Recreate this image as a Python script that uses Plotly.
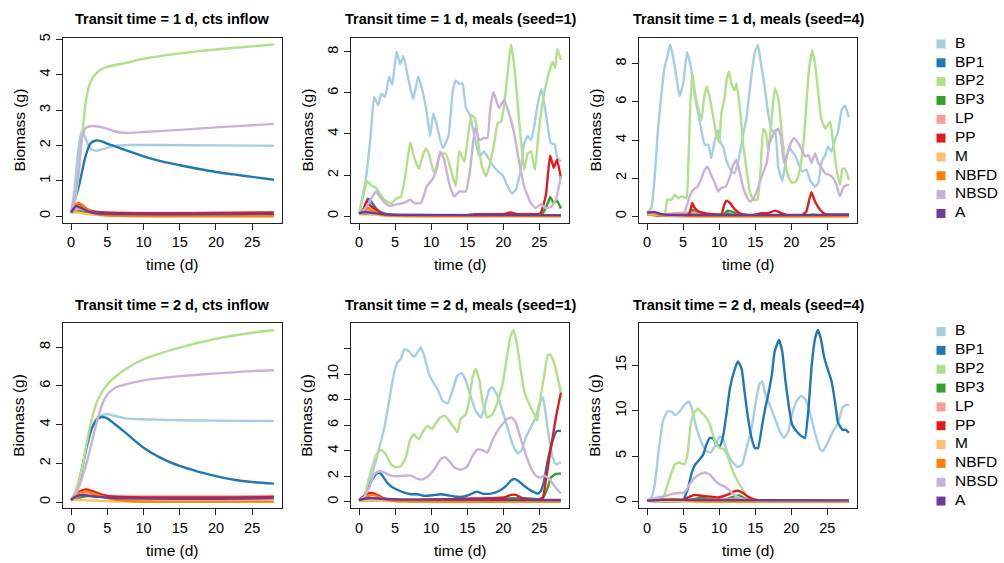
import plotly.graph_objects as go

# ---------------- series names / colours ----------------
SERIES = ["B", "BP1", "BP2", "BP3", "LP", "PP", "M", "NBFD", "NBSD", "A"]
COLORS = ["#A6CEE3", "#1F78B4", "#B2DF8A", "#33A02C", "#FB9A99",
          "#E31A1C", "#FDBF6F", "#FF7F00", "#CAB2D6", "#6A3D9A"]

TITLES = ["Transit time = 1 d, cts inflow", "Transit time = 1 d, meals (seed=1)",
          "Transit time = 1 d, meals (seed=4)", "Transit time = 2 d, cts inflow",
          "Transit time = 2 d, meals (seed=1)", "Transit time = 2 d, meals (seed=4)"]

X_TICKS = [0, 5, 10, 15, 20, 25]
Y_TICKS = [[0, 1, 2, 3, 4, 5], [0, 2, 4, 6, 8], [0, 2, 4, 6, 8],
           [0, 2, 4, 6, 8], [0, 2, 4, 6, 8, 10, 12], [0, 5, 10, 15]]
Y_TICKTEXT = [None, None, None, None, ["0", "2", "4", "6", "8", "10", ""], None]

# ---------------- panel 1: transit 1 d, continuous inflow  (time d, biomass g) ----------------
P1_B = [(0, 0.1), (0.5, 0.8), (1.0, 1.9), (1.5, 2.4), (2.0, 2.2), (2.5, 1.95), (3.0, 1.87), (3.5, 1.85),
        (4, 1.87), (5, 1.93), (6, 1.98), (8, 2.01), (12, 2.01), (20, 2.0), (28, 1.99)]
P1_BP1 = [(0, 0.1), (0.5, 0.45), (1.0, 0.8), (1.5, 1.25), (2.0, 1.7), (2.7, 2.06), (3.4, 2.14), (4, 2.13),
          (5, 2.05), (7.5, 1.87), (10, 1.69), (12.5, 1.55), (15, 1.44), (17.5, 1.34), (20, 1.25),
          (22.5, 1.18), (25, 1.11), (28, 1.03)]
P1_BP2 = [(0, 0.1), (0.5, 0.4), (1.0, 1.1), (1.5, 2.2), (2.0, 3.2), (2.5, 3.7), (3, 3.92), (4, 4.13),
          (5, 4.22), (7.5, 4.33), (10, 4.45), (15, 4.6), (20, 4.71), (25, 4.8), (28, 4.85)]
P1_BP3 = [(0, 0.1), (1, 0.15), (3, 0.09), (28, 0.08)]
P1_LP = [(0, 0.1), (1, 0.2), (3, 0.12), (28, 0.12)]
P1_PP = [(0, 0.1), (0.5, 0.25), (1.0, 0.35), (1.5, 0.3), (2.5, 0.17), (4, 0.11), (28, 0.1)]
P1_M = [(0, 0.1), (1, 0.1), (2, 0.06), (4, 0.03), (28, 0.02)]
P1_NBFD = [(0, 0.1), (0.5, 0.3), (1.0, 0.38), (1.5, 0.32), (2.5, 0.15), (4, 0.04), (6, 0.01), (28, 0.0)]
P1_NBSD = [(0, 0.1), (0.5, 0.5), (1, 1.3), (1.5, 2.2), (2, 2.49), (3, 2.55), (4.5, 2.5), (6, 2.4),
           (7.5, 2.35), (10, 2.38), (15, 2.44), (20, 2.51), (25, 2.57), (28, 2.61)]
P1_A = [(0, 0.1), (0.7, 0.28), (1.5, 0.22), (2.5, 0.12), (3.5, 0.08), (28, 0.07)]

# ---------------- panel 2: transit 1 d, meals seed=1 ----------------
P2_B = [(0, 0.1), (0.93, 1.8), (1.6, 3.9), (2.08, 5.8), (2.64, 5.4), (3.1, 5.95), (3.6, 5.8), (4.17, 6.8),
        (4.6, 6.4), (5.2, 8.0), (5.7, 7.4), (6.16, 7.8), (6.7, 6.9), (7.5, 5.7), (8.2, 6.8), (8.8, 6.1),
        (9.4, 5.0), (9.86, 3.9), (10.3, 5.0), (10.8, 4.4), (11.6, 3.3), (12.4, 3.9), (13.0, 6.1),
        (13.4, 6.6), (13.9, 6.45), (14.35, 6.45), (14.8, 5.3), (15.4, 4.9), (16.0, 3.9), (16.7, 2.9),
        (17.3, 3.15), (17.8, 2.9), (18.5, 2.5), (19.2, 2.2), (19.9, 2.0), (20.6, 1.45), (21.2, 1.1),
        (21.76, 1.3), (22.45, 2.3), (22.9, 3.55), (23.4, 3.9), (23.85, 3.7), (24.3, 4.4), (24.8, 5.5),
        (25.3, 6.2), (25.9, 5.0), (26.6, 3.55), (27.1, 3.5), (27.5, 2.85), (28.0, 2.65)]
P2_BP1 = [(0, 0.1), (0.7, 0.4), (1.2, 0.85), (1.7, 0.7), (2.3, 0.4), (3, 0.2), (4, 0.08), (6, 0.04), (28, 0.02)]
P2_BP2 = [(0, 0.1), (0.93, 1.5), (1.16, 1.7), (1.7, 1.5), (2.3, 1.4), (2.8, 1.15), (3.5, 0.8), (4.2, 0.65),
          (4.6, 0.65), (5.1, 0.85), (5.8, 0.95), (6.4, 1.95), (7.1, 3.6), (7.6, 2.9), (8.3, 2.3),
          (8.8, 2.9), (9.26, 3.3), (9.7, 3.0), (10.4, 2.1), (11.25, 3.0), (12.0, 3.05), (12.7, 2.3),
          (13.4, 1.45), (13.9, 3.15), (14.6, 2.65), (15.05, 3.7), (15.6, 4.9), (16.1, 4.75),
          (16.6, 3.4), (17.1, 2.35), (17.6, 1.95), (18.05, 2.4), (18.75, 3.55), (19.2, 4.5),
          (19.7, 4.6), (20.2, 5.65), (20.6, 6.95), (21.06, 8.35), (21.5, 7.4), (22.0, 5.5),
          (22.45, 3.7), (22.9, 2.25), (23.4, 3.05), (23.85, 3.15), (24.4, 2.25), (24.9, 4.05),
          (25.5, 5.65), (26.2, 6.8), (26.85, 7.5), (27.2, 7.2), (27.5, 8.15), (28.0, 7.6)]
P2_BP3 = [(0, 0.1), (2, 0.1), (5, 0.03), (20, 0.05), (25.2, 0.05), (25.6, 0.2), (26.2, 0.65), (26.5, 0.93),
          (27.0, 0.65), (27.45, 0.75), (28, 0.37)]
P2_LP = [(0, 0.1), (1.2, 0.3), (3, 0.05), (28, 0.03)]
P2_PP = [(0, 0.1), (0.6, 0.3), (1.1, 0.75), (1.6, 0.5), (2.2, 0.35), (3, 0.15), (4, 0.05), (15, 0.05),
         (16, 0.1), (20, 0.1), (21, 0.18), (22, 0.1), (24.8, 0.1), (25.2, 0.15), (25.9, 1.0),
         (26.5, 2.95), (27.0, 2.35), (27.45, 2.75), (28, 1.85)]
P2_M = [(0, 0.1), (1, 0.15), (2.5, 0.05), (28, 0.02)]
P2_NBFD = [(0, 0.1), (0.8, 0.3), (1.2, 0.4), (2, 0.25), (3, 0.08), (5, 0.02), (28, 0.0)]
P2_NBSD = [(0, 0.1), (0.9, 0.4), (1.6, 0.8), (2.3, 1.2), (3.0, 0.9), (3.7, 0.6), (4.4, 0.5), (5.3, 0.58),
           (6.25, 0.65), (7.1, 0.8), (7.7, 0.63), (8.6, 0.65), (9.4, 1.45), (10.2, 1.8), (10.8, 2.35),
           (11.25, 3.15), (11.8, 2.75), (12.5, 1.6), (13.2, 0.95), (13.9, 1.2), (14.8, 1.2), (15.4, 2.25),
           (16.1, 4.3), (16.7, 3.7), (17.3, 3.8), (17.8, 3.8), (18.2, 5.25), (18.65, 6.05), (19.4, 5.25),
           (20.1, 5.65), (20.8, 5.0), (21.5, 4.05), (22.2, 2.65), (22.9, 1.45), (23.8, 0.65), (24.5, 0.4),
           (25.2, 0.58), (25.9, 0.4), (26.6, 0.45), (27.3, 0.8), (28, 1.95)]
P2_A = [(0, 0.15), (1, 0.2), (2, 0.15), (4, 0.08), (28, 0.05)]

# ---------------- panel 3: transit 1 d, meals seed=4 ----------------
P3_B = [(0, 0.17), (0.6, 0.45), (1.06, 2.1), (1.5, 4.5), (2.0, 6.45), (2.45, 7.85), (2.8, 8.35), (3.2, 9.0),
        (3.6, 8.35), (4.07, 7.3), (4.5, 6.3), (5.0, 6.95), (5.55, 8.6), (6.06, 7.85), (6.5, 6.6),
        (7.08, 5.4), (7.55, 4.5), (8.0, 3.75), (8.5, 3.75), (8.9, 3.05), (9.4, 4.0), (9.86, 4.5),
        (10.2, 3.85), (10.55, 3.65), (11.0, 2.95), (11.5, 2.5), (12.1, 2.25), (12.6, 2.8), (13.2, 4.0),
        (13.8, 5.2), (14.4, 7.15), (14.95, 8.6), (15.4, 8.97), (15.8, 8.0), (16.25, 6.95), (16.8, 5.4),
        (17.3, 4.45), (17.75, 4.5), (18.2, 2.6), (18.75, 1.85), (19.2, 2.8), (19.7, 3.65), (20.1, 3.4),
        (20.6, 3.15), (21.06, 2.7), (21.5, 2.35), (22.1, 2.45), (22.6, 1.9), (23.3, 1.55), (23.75, 1.75),
        (24.2, 2.85), (24.7, 3.2), (25.1, 3.65), (25.6, 3.4), (26.06, 4.0), (26.5, 4.45), (27.0, 5.6),
        (27.45, 5.8), (28, 5.2)]
P3_BP1 = [(0, 0.1), (1, 0.08), (5.8, 0.05), (6.25, 0.35), (6.8, 0.1), (8, 0.05), (10.8, 0.05), (11.2, 0.15),
          (12, 0.05), (28, 0.03)]
P3_BP2 = [(0, 0.17), (1, 0.1), (2.45, 0.1), (2.8, 0.87), (3.4, 0.87), (3.85, 1.13), (4.3, 0.96), (4.77, 1.05),
          (5.46, 0.96), (5.7, 2.45), (6.0, 5.9), (6.3, 7.5), (6.6, 6.6), (7.1, 5.65), (7.55, 5.05),
          (7.9, 6.2), (8.3, 6.8), (8.7, 6.2), (9.2, 5.15), (9.6, 4.35), (10.0, 3.85), (10.3, 5.4),
          (10.7, 6.1), (11.0, 7.05), (11.35, 7.6), (11.7, 6.95), (12.1, 6.6), (12.4, 6.95), (12.9, 5.6),
          (13.3, 3.85), (13.8, 2.45), (14.25, 1.3), (14.7, 0.87), (15.3, 0.87), (15.75, 2.45), (16.1, 4.6),
          (16.5, 4.35), (16.8, 3.4), (17.2, 4.7), (17.7, 6.7), (18.2, 6.2), (18.65, 4.5), (19.1, 2.95),
          (19.6, 2.1), (20.1, 1.75), (20.7, 1.85), (21.2, 2.45), (21.7, 3.85), (22.1, 5.9), (22.45, 7.65),
          (22.9, 8.7), (23.3, 8.0), (23.75, 6.45), (24.2, 5.05), (24.75, 4.6), (25.4, 4.95), (25.8, 3.9),
          (26.3, 2.45), (26.75, 1.65), (27.1, 2.5), (27.45, 2.5), (28, 1.9)]
P3_BP3 = [(0, 0.1), (5.8, 0.05), (6.3, 0.35), (7, 0.2), (8, 0.12), (10.5, 0.1), (11.2, 0.3), (12.5, 0.15),
          (14, 0.05), (22.5, 0.05), (23, 0.1), (24, 0.05), (28, 0.05)]
P3_LP = [(0, 0.15), (1, 0.1), (6.3, 0.2), (8, 0.1), (28, 0.05)]
P3_PP = [(0, 0.1), (2, 0.05), (5.5, 0.05), (5.9, 0.17), (6.25, 0.7), (6.6, 0.45), (7.08, 0.26), (8.0, 0.17),
         (9.4, 0.1), (10.3, 0.1), (10.7, 0.6), (11.0, 0.82), (11.5, 0.7), (12.2, 0.35), (13.1, 0.12),
         (14.5, 0.05), (15.9, 0.17), (16.8, 0.17), (17.75, 0.3), (18.65, 0.17), (19.6, 0.05), (21.4, 0.05),
         (22.1, 0.26), (22.5, 0.87), (22.8, 1.27), (23.3, 0.78), (24.0, 0.35), (24.7, 0.12), (25.6, 0.1),
         (28, 0.1)]
P3_M = [(0, 0.1), (1, 0.1), (3, 0.02), (28, 0.01)]
P3_NBFD = [(0, 0.15), (0.8, 0.2), (2, 0.05), (28, 0.01)]
P3_NBSD = [(0, 0.17), (0.6, 0.26), (1.5, 0.17), (3, 0.05), (5.0, 0.05), (5.46, 0.5), (5.9, 1.05), (6.4, 1.4),
           (7.0, 1.55), (7.55, 2.0), (8.0, 2.45), (8.4, 2.6), (8.85, 2.2), (9.4, 1.75), (9.86, 1.3),
           (10.3, 1.5), (10.9, 1.55), (11.5, 2.1), (11.95, 2.7), (12.4, 2.95), (12.9, 2.25), (13.3, 1.55),
           (13.8, 1.05), (14.25, 0.78), (14.7, 0.87), (15.3, 1.4), (15.9, 2.1), (16.6, 2.8), (17.0, 3.85),
           (17.75, 4.45), (18.2, 4.6), (18.55, 4.2), (19.0, 2.8), (19.5, 3.3), (19.95, 3.85), (20.4, 4.1),
           (20.95, 3.85), (21.45, 3.5), (21.9, 3.15), (22.4, 3.2), (22.8, 2.8), (23.3, 3.3), (23.75, 2.8),
           (24.2, 2.55), (24.7, 2.25), (25.1, 2.2), (25.6, 2.1), (26.2, 1.75), (26.75, 1.05), (27.2, 1.5),
           (27.7, 1.65), (28, 1.65)]
P3_A = [(0, 0.2), (1, 0.22), (2, 0.12), (3, 0.08), (28, 0.08)]

# ---------------- panel 4: transit 2 d, continuous inflow ----------------
P4_B = [(0, 0.1), (0.5, 0.4), (1, 0.95), (1.5, 1.77), (2.2, 2.8), (2.9, 3.84), (3.6, 4.35), (4.3, 4.49),
        (5, 4.53), (6.1, 4.44), (7.5, 4.32), (10, 4.27), (15, 4.22), (20, 4.2), (28, 4.18)]
P4_BP1 = [(0, 0.1), (0.5, 0.4), (1, 0.9), (1.5, 1.69), (2.2, 2.98), (2.9, 3.84), (3.6, 4.27), (4.3, 4.39),
          (5, 4.32), (6.1, 4.0), (7.5, 3.58), (10, 2.8), (12.5, 2.25), (15, 1.86), (17.5, 1.57), (20, 1.34),
          (22.5, 1.15), (25, 1.03), (28, 0.95)]
P4_BP2 = [(0, 0.1), (0.5, 0.45), (1, 1.0), (1.5, 1.7), (2.2, 3.15), (2.9, 4.35), (3.6, 5.2), (5, 6.07),
          (7.5, 6.85), (10, 7.37), (15, 7.97), (20, 8.43), (25, 8.74), (28, 8.88)]
P4_BP3 = [(0, 0.1), (2, 0.3), (5, 0.25), (28, 0.25)]
P4_LP = [(0, 0.1), (2, 0.45), (5, 0.32), (28, 0.31)]
P4_PP = [(0, 0.1), (1, 0.5), (2, 0.65), (3, 0.55), (4.5, 0.35), (6, 0.27), (28, 0.26)]
P4_M = [(0, 0.1), (2, 0.1), (5, 0.04), (28, 0.02)]
P4_NBFD = [(0, 0.1), (1, 0.45), (2, 0.55), (3, 0.45), (5, 0.2), (8, 0.05), (12, 0.02), (28, 0.02)]
P4_NBSD = [(0, 0.1), (0.5, 0.35), (1, 0.7), (1.5, 1.25), (2.2, 2.1), (2.9, 3.15), (3.6, 4.2), (4.3, 5.05),
           (5, 5.55), (6.1, 5.9), (7.5, 6.07), (10, 6.28), (15, 6.5), (20, 6.64), (25, 6.76), (28, 6.8)]
P4_A = [(0, 0.1), (0.8, 0.3), (1.5, 0.36), (3, 0.3), (6, 0.2), (28, 0.19)]

# ---------------- panel 5: transit 2 d, meals seed=1 ----------------
P5_B = [(0, 0.13), (0.7, 0.47), (1.4, 1.38), (2.08, 2.7), (2.8, 4.25), (3.5, 5.8), (4.17, 7.9), (4.77, 9.85),
        (5.3, 10.9), (5.8, 11.2), (6.3, 11.95), (6.9, 11.8), (7.6, 11.35), (8.1, 11.7), (8.56, 12.1),
        (9.1, 11.3), (9.7, 10.0), (10.3, 9.35), (10.9, 8.8), (11.6, 7.9), (12.3, 7.7), (12.96, 8.7),
        (13.6, 9.85), (14.2, 10.1), (14.8, 9.5), (15.5, 8.2), (16.2, 7.1), (16.9, 6.6), (17.45, 7.5),
        (18.05, 8.8), (18.5, 8.95), (19.2, 8.3), (19.9, 7.1), (20.6, 5.8), (21.3, 4.5), (22.0, 3.8),
        (22.5, 4.0), (23.1, 5.0), (23.8, 5.8), (24.5, 6.6), (25.0, 7.65), (25.5, 8.2), (25.9, 6.85),
        (26.4, 4.8), (26.85, 3.5), (27.3, 2.95), (28, 3.1)]
P5_BP1 = [(0, 0.13), (0.93, 0.6), (1.6, 1.5), (2.3, 2.15), (2.8, 2.3), (3.25, 2.05), (3.9, 1.5), (4.6, 1.15),
          (5.3, 0.95), (6.25, 0.73), (7.2, 0.6), (8.1, 0.6), (9.0, 0.47), (10.2, 0.52), (11.3, 0.6),
          (12.3, 0.52), (13.2, 0.42), (14.6, 0.42), (15.5, 0.6), (16.3, 0.8), (17.1, 0.65), (18.3, 0.65),
          (19.4, 0.85), (20.4, 1.25), (21.1, 1.7), (21.6, 1.78), (22.2, 1.6), (22.9, 1.25), (23.8, 0.9),
          (24.8, 0.65), (25.2, 0.85), (25.6, 1.5), (26.15, 3.2), (26.85, 4.8), (27.45, 5.55), (28, 5.55)]
P5_BP2 = [(0, 0.13), (0.7, 0.47), (1.4, 1.9), (2.08, 3.2), (2.55, 3.85), (3.1, 4.05), (3.7, 3.75), (4.4, 2.95),
          (5.1, 2.7), (5.8, 2.8), (6.5, 3.5), (7.1, 4.9), (7.6, 5.3), (8.3, 4.9), (8.9, 5.55), (9.5, 5.95),
          (10.1, 5.7), (10.6, 6.1), (11.25, 6.6), (11.9, 6.75), (12.5, 6.35), (13.2, 5.8), (13.65, 5.45),
          (14.1, 6.5), (14.8, 6.85), (15.3, 8.05), (15.74, 9.75), (16.2, 10.4), (16.7, 9.5), (17.1, 7.9),
          (17.8, 6.6), (18.5, 6.85), (19.2, 7.8), (19.9, 9.2), (20.5, 11.3), (20.97, 12.9), (21.4, 13.45),
          (21.9, 12.35), (22.45, 10.25), (22.9, 8.7), (23.6, 7.65), (24.3, 6.85), (24.7, 6.35), (25.1, 7.9),
          (25.7, 10.0), (26.15, 11.45), (26.5, 11.55), (27.1, 10.8), (27.5, 9.85), (28, 8.55)]
P5_BP3 = [(0, 0.1), (3, 0.15), (10, 0.15), (15, 0.2), (20, 0.25), (22, 0.3), (24, 0.25), (25.3, 0.2),
          (25.6, 0.4), (26.15, 1.1), (26.6, 1.9), (27.3, 2.2), (28, 2.2)]
P5_LP = [(0, 0.1), (2, 0.3), (5, 0.15), (28, 0.1)]
P5_PP = [(0, 0.13), (0.7, 0.47), (1.4, 0.68), (2.1, 0.65), (2.8, 0.47), (3.5, 0.26), (4.9, 0.16), (8.1, 0.16),
         (12.7, 0.21), (15.5, 0.26), (18.3, 0.29), (20.1, 0.34), (21.1, 0.55), (21.75, 0.55), (22.45, 0.34),
         (23.4, 0.21), (24.8, 0.16), (25.5, 0.34), (25.9, 1.65), (26.4, 3.5), (26.85, 5.05), (27.3, 6.6),
         (28, 8.55)]
P5_M = [(0, 0.1), (2, 0.12), (5, 0.05), (28, 0.02)]
P5_NBFD = [(0, 0.1), (1, 0.4), (1.8, 0.55), (2.5, 0.45), (3.5, 0.2), (5, 0.06), (28, 0.02)]
P5_NBSD = [(0, 0.13), (0.7, 0.4), (1.4, 1.1), (2.08, 2.15), (2.8, 2.4), (3.5, 2.3), (4.4, 2.05), (5.3, 2.0),
           (6.25, 2.05), (7.2, 2.05), (8.1, 1.8), (8.8, 1.75), (9.7, 2.05), (10.6, 2.7), (11.3, 3.35),
           (11.9, 3.5), (12.5, 3.2), (13.2, 2.7), (14.1, 2.5), (15.05, 2.8), (15.74, 3.6), (16.4, 4.1),
           (17.1, 4.05), (17.8, 3.85), (18.5, 4.8), (19.2, 5.55), (19.9, 6.1), (20.6, 6.5), (21.2, 6.6),
           (21.75, 6.2), (22.45, 4.9), (23.1, 3.75), (23.8, 2.7), (24.5, 2.05), (25.1, 1.9), (25.7, 2.05),
           (26.4, 1.8), (27.1, 1.25), (28, 0.65)]
P5_A = [(0, 0.15), (1.5, 0.3), (3, 0.25), (6, 0.18), (28, 0.15)]

# ---------------- panel 6: transit 2 d, meals seed=4 ----------------
P6_B = [(0, 0.1), (0.6, 0.47), (1.06, 1.9), (1.6, 5.55), (2.2, 8.85), (2.8, 9.9), (3.4, 9.9), (3.9, 9.5),
        (4.5, 9.9), (5.2, 10.65), (5.8, 11.0), (6.25, 10.1), (6.85, 8.1), (7.55, 6.5), (8.24, 5.55),
        (8.85, 5.4), (9.4, 6.1), (10.1, 7.2), (10.55, 6.85), (11.15, 5.4), (11.9, 4.3), (12.6, 3.8),
        (13.2, 4.1), (13.8, 5.9), (14.5, 8.1), (15.2, 11.55), (15.65, 13.0), (16.0, 13.2), (16.4, 11.75),
        (17.0, 10.65), (17.7, 9.2), (18.4, 7.75), (19.0, 7.0), (19.6, 7.75), (20.1, 9.55), (20.7, 11.0),
        (21.4, 11.65), (22.0, 11.2), (22.6, 9.75), (23.3, 7.55), (24.0, 5.75), (24.4, 5.55), (25.05, 6.5),
        (25.8, 7.75), (26.5, 8.65), (27.1, 10.3), (27.7, 10.65), (28, 10.6)]
P6_BP1 = [(0, 0.1), (3, 0.1), (5.0, 0.15), (5.2, 0.47), (5.7, 1.55), (6.2, 3.2), (6.7, 4.1), (7.3, 4.65),
          (7.8, 5.2), (8.24, 6.3), (8.7, 7.0), (9.2, 6.95), (9.6, 6.3), (10.1, 6.1), (10.55, 7.2),
          (11.0, 9.55), (11.5, 12.5), (12.2, 14.65), (12.6, 15.4), (13.1, 14.65), (13.55, 11.9), (14.0, 9.2),
          (14.5, 7.0), (14.95, 5.9), (15.4, 5.9), (15.9, 8.1), (16.3, 9.9), (16.8, 11.75), (17.3, 13.9),
          (17.7, 16.5), (18.3, 17.75), (18.75, 16.5), (19.2, 13.2), (19.7, 10.3), (20.1, 8.5), (20.7, 7.75),
          (21.4, 7.2), (21.9, 7.0), (22.4, 10.3), (22.8, 14.65), (23.3, 17.9), (23.7, 18.85), (24.1, 17.9),
          (24.6, 15.75), (25.1, 14.45), (25.6, 13.2), (26.06, 11.0), (26.5, 8.65), (27.1, 7.9), (27.55, 7.9),
          (28, 7.55)]
P6_BP2 = [(0, 0.1), (1.5, 0.1), (2.0, 0.3), (2.45, 0.85), (3.15, 2.65), (3.85, 4.1), (4.4, 4.3), (5.2, 4.1),
          (5.6, 5.2), (6.06, 8.5), (6.5, 9.75), (7.08, 10.2), (7.6, 9.75), (8.24, 9.2), (8.7, 8.5),
          (9.2, 7.2), (9.6, 6.3), (10.1, 5.9), (10.7, 5.75), (11.25, 4.85), (11.8, 3.55), (12.4, 2.5),
          (13.1, 1.55), (13.8, 0.65), (14.5, 0.3), (16, 0.1), (28, 0.08)]
P6_BP3 = [(0, 0.1), (5, 0.05), (6.5, 0.3), (7.5, 0.4), (9, 0.3), (10.5, 0.2), (12, 0.55), (12.8, 0.7),
          (13.5, 0.4), (15, 0.1), (28, 0.03)]
P6_LP = [(0, 0.1), (3, 0.2), (8, 0.2), (13, 0.3), (16, 0.08), (28, 0.05)]
P6_PP = [(0, 0.1), (4.8, 0.1), (5.7, 0.47), (6.6, 0.75), (7.55, 0.65), (8.5, 0.58), (9.9, 0.47),
         (10.55, 0.6), (11.25, 0.8), (12.0, 1.1), (12.6, 1.2), (13.3, 0.95), (14.1, 0.5), (15.0, 0.22),
         (16.3, 0.1), (28, 0.05)]
P6_M = [(0, 0.1), (2, 0.1), (5, 0.03), (28, 0.01)]
P6_NBFD = [(0, 0.1), (2, 0.25), (3.5, 0.3), (5, 0.2), (7, 0.05), (28, 0.01)]
P6_NBSD = [(0, 0.1), (1.5, 0.47), (2.45, 0.58), (3.4, 0.85), (4.3, 0.95), (5.2, 1.0), (5.9, 1.9), (6.6, 2.65),
           (7.3, 3.0), (8.0, 3.2), (8.7, 3.0), (9.4, 2.35), (10.1, 1.9), (10.8, 1.65), (11.5, 1.2),
           (12.2, 0.65), (13.1, 0.35), (14.0, 0.2), (16, 0.15), (28, 0.12)]
P6_A = [(0, 0.1), (2, 0.2), (5, 0.2), (28, 0.15)]

PANELS = [
    [P1_B, P1_BP1, P1_BP2, P1_BP3, P1_LP, P1_PP, P1_M, P1_NBFD, P1_NBSD, P1_A],
    [P2_B, P2_BP1, P2_BP2, P2_BP3, P2_LP, P2_PP, P2_M, P2_NBFD, P2_NBSD, P2_A],
    [P3_B, P3_BP1, P3_BP2, P3_BP3, P3_LP, P3_PP, P3_M, P3_NBFD, P3_NBSD, P3_A],
    [P4_B, P4_BP1, P4_BP2, P4_BP3, P4_LP, P4_PP, P4_M, P4_NBFD, P4_NBSD, P4_A],
    [P5_B, P5_BP1, P5_BP2, P5_BP3, P5_LP, P5_PP, P5_M, P5_NBFD, P5_NBSD, P5_A],
    [P6_B, P6_BP1, P6_BP2, P6_BP3, P6_LP, P6_PP, P6_M, P6_NBFD, P6_NBSD, P6_A],
]
SMOOTH = [True, False, False, True, False, False]

# ---------------- layout geometry (pixels) ----------------
W, H = 1004, 563
COLS = [(63, 282), (351, 569), (639, 857)]
ROWS = [(33, 220), (321, 508)]
LEG_BOXES = [(29.8, 219.8), (320.0, 510.0)]   # legend column areas (top / bottom row)
LEG_X = (930, 1004)
FONT = "Liberation Sans, Arial, Helvetica, sans-serif"
TICK_SIZE = 14.5
LAB_SIZE = 15.5
TITLE_SIZE = 14.5


def px(x):
    return x / W


def py(y):
    return 1 - y / H


fig = go.Figure()
layout = dict(width=W, height=H, margin=dict(l=0, r=0, t=0, b=0),
              paper_bgcolor="white", plot_bgcolor="white",
              font=dict(family=FONT, size=13, color="black"),
              showlegend=False)
annotations = []

for i, series_list in enumerate(PANELS):
    r, c = divmod(i, 3)
    x0, x1 = COLS[c]
    y0, y1 = ROWS[r]
    ax = "" if i == 0 else str(i + 1)
    xs_all = [t for s in series_list for t, _ in s]
    ys_all = [v for s in series_list for _, v in s]
    xmin, xmax = min(xs_all), max(xs_all)
    ymin, ymax = min(ys_all), max(ys_all)
    xr = [xmin - 0.04 * (xmax - xmin), xmax + 0.04 * (xmax - xmin)]
    yr = [ymin - 0.04 * (ymax - ymin), ymax + 0.04 * (ymax - ymin)]
    axis_common = dict(showline=True, mirror=True, linecolor="#222222", linewidth=1,
                       ticks="outside", ticklen=6, tickwidth=1, tickcolor="#222222",
                       showgrid=False, zeroline=False,
                       tickfont=dict(family=FONT, size=TICK_SIZE, color="black"))
    layout["xaxis" + ax] = dict(domain=[px(x0), px(x1)], range=xr, anchor="y" + ax,
                                tickvals=X_TICKS, **axis_common)
    yt = dict(domain=[py(y1), py(y0)], range=yr, anchor="x" + ax,
              tickvals=Y_TICKS[i], tickangle=-90, **axis_common)
    if Y_TICKTEXT[i] is not None:
        yt["ticktext"] = Y_TICKTEXT[i]
    layout["yaxis" + ax] = yt

    for name, color, pts in zip(SERIES, COLORS, series_list):
        fig.add_trace(go.Scatter(
            x=[p[0] for p in pts], y=[p[1] for p in pts], mode="lines",
            line=dict(color=color, width=2.4,
                      shape="spline", smoothing=0.8 if SMOOTH[i] else 0.4),
            xaxis="x" + ax, yaxis="y" + ax, name=name,
            hoverinfo="x+y+name"))

    annotations.append(dict(text="<b>%s</b>" % TITLES[i], x=px((x0 + x1) / 2), y=py(y0 - 18.5),
                            xref="paper", yref="paper", showarrow=False,
                            font=dict(family=FONT, size=TITLE_SIZE, color="black"),
                            xanchor="center", yanchor="middle"))
    annotations.append(dict(text="time (d)", x=px((x0 + x1) / 2), y=py(y1 + 42),
                            xref="paper", yref="paper", showarrow=False,
                            font=dict(family=FONT, size=LAB_SIZE, color="black"),
                            xanchor="center", yanchor="middle"))
    annotations.append(dict(text="Biomass (g)", x=px(x0 - 44), y=py((y0 + y1) / 2),
                            xref="paper", yref="paper", showarrow=False, textangle=-90,
                            font=dict(family=FONT, size=LAB_SIZE, color="black"),
                            xanchor="center", yanchor="middle"))

# legends: square keys + labels on hidden axes, one per row (series index -> vertical position)
for j, (ly0, ly1) in enumerate(LEG_BOXES):
    ax = str(7 + j)
    layout["xaxis" + ax] = dict(domain=[px(LEG_X[0]), px(LEG_X[1])], range=[0, LEG_X[1] - LEG_X[0]],
                                anchor="y" + ax, visible=False, fixedrange=True)
    layout["yaxis" + ax] = dict(domain=[py(ly1), py(ly0)], range=[len(SERIES) - 0.5, -0.5],
                                anchor="x" + ax, visible=False, fixedrange=True)
    idx = list(range(len(SERIES)))
    fig.add_trace(go.Scatter(x=[11] * len(SERIES), y=idx, mode="markers",
                             marker=dict(symbol="square", size=9, color=COLORS),
                             xaxis="x" + ax, yaxis="y" + ax, hoverinfo="skip", cliponaxis=False))
    fig.add_trace(go.Scatter(x=[25] * len(SERIES), y=idx, mode="text", text=SERIES,
                             textposition="middle right", cliponaxis=False,
                             textfont=dict(family=FONT, size=LAB_SIZE, color="black"),
                             xaxis="x" + ax, yaxis="y" + ax, hoverinfo="skip"))

layout["annotations"] = annotations
fig.update_layout(**layout)

fig.write_html("out.html", config={"displayModeBar": False},
               post_script="document.body.style.margin='0';document.body.style.overflow='hidden';")
